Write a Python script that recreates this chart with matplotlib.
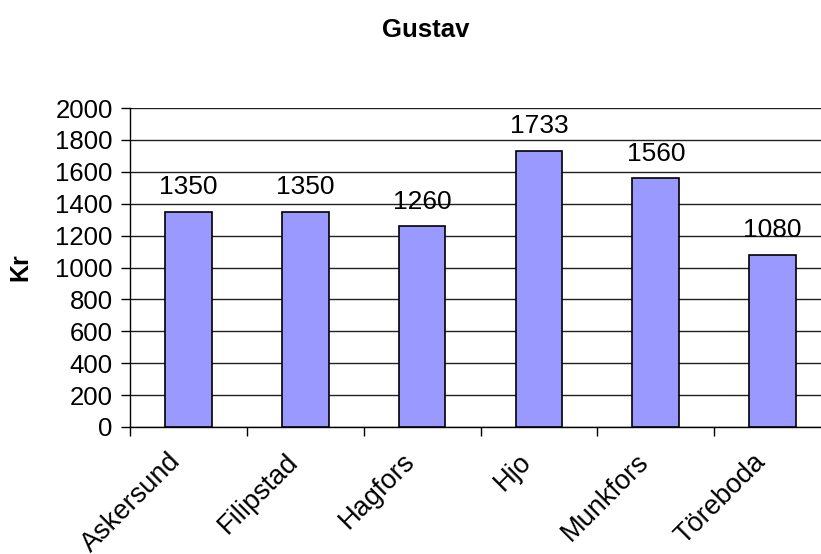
import numpy as np
import matplotlib.pyplot as plt
from matplotlib.ticker import FixedLocator

plt.rcParams['font.family'] = ['Liberation Sans', 'DejaVu Sans']

towns = ['Askersund', 'Filipstad', 'Hagfors', 'Hjo', 'Munkfors', 'Töreboda']
kr = [1350, 1350, 1260, 1733, 1560, 1080]
yticks = list(range(0, 2001, 200))

fig = plt.figure(figsize=(8.21, 5.54), dpi=100)
# plot area in pixels: left 130, top 108, bottom 427, right edge cut at figure edge
ax = fig.add_axes([130/821, (554-427)/554, (821-130)/821, (427-108)/554])

x = np.arange(len(towns))
ax.bar(x, kr, width=0.4, color='#9999FF', edgecolor='black', linewidth=1.2, zorder=3)

for xi, v in zip(x, kr):
    ax.annotate(str(v), (xi, v), xytext=(0, 9), textcoords='offset points',
                ha='center', va='bottom', fontsize=19)

ax.set_xlim(-0.5, 5.5 - 10/116.7)
ax.set_ylim(0, 2000)
ax.set_yticks(yticks)
ax.yaxis.grid(True, color='#202020', linewidth=1.0, zorder=0)
ax.tick_params(axis='y', labelsize=18.5, length=6.5, width=1, direction='out', pad=6)

# category boundaries get the tick marks, labels sit a little left of centre
ax.xaxis.set_major_locator(FixedLocator(x - 0.5))
ax.xaxis.set_minor_locator(FixedLocator(x - 0.095))
ax.set_xticklabels([])
ax.set_xticklabels(towns, minor=True, rotation=45, ha='right', va='center',
                   rotation_mode='anchor', fontsize=19.5)
ax.tick_params(axis='x', which='major', length=6.5, width=1, direction='out')
ax.tick_params(axis='x', which='minor', length=0, pad=22)

for s in ['top', 'right']:
    ax.spines[s].set_visible(False)
ax.spines['left'].set_linewidth(1)
ax.spines['bottom'].set_linewidth(1)

ax.set_ylabel('Kr', fontsize=18, fontweight='bold')
ax.yaxis.set_label_coords(-(130-32)/691, 0.5)
fig.text(426/821, 1 - 30/554, 'Gustav', ha='center', va='center',
         fontsize=18.5, fontweight='bold')

fig.savefig('out.png', dpi=100)
